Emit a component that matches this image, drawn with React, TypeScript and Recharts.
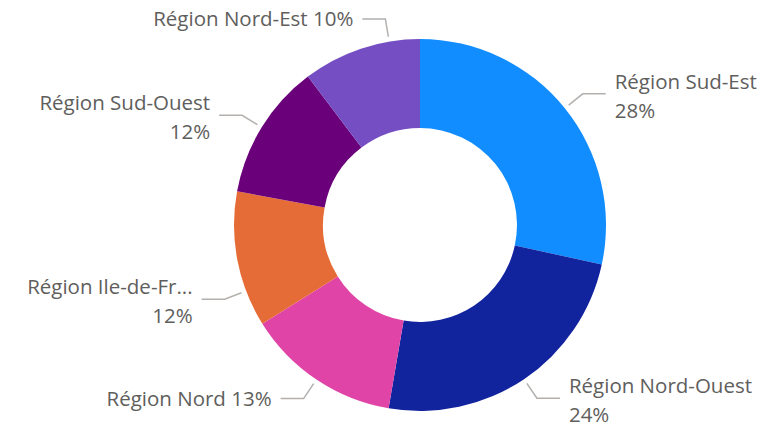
import { PieChart, Pie, Cell } from 'recharts'

const categories = [
  'Région Sud-Est',
  'Région Nord-Ouest',
  'Région Nord',
  'Région Ile-de-France',
  'Région Sud-Ouest',
  'Région Nord-Est',
]
const shares = [28.4, 24.3, 13.4, 11.8, 11.8, 10.3]
// what the label shows (Ile-de-France is cut off in the original)
const labelNames = [
  'Région Sud-Est',
  'Région Nord-Ouest',
  'Région Nord',
  'Région Ile-de-Fr...',
  'Région Sud-Ouest',
  'Région Nord-Est',
]
const wrapLabel = [true, true, false, true, true, false]

const palette = ['#118DFF', '#12239E', '#E044A7', '#E66C37', '#6B007B', '#744EC2']

// the original nudges two labels off their slice's mid angle to spread them out
const angleNudge: Record<number, number> = { 3: 10, 5: -9 }

const RAD = Math.PI / 180
const FONT = '"Open Sans", "Noto Sans", sans-serif'
const TEXT = '#605E5C'
const LINE = '#B3B0AD'

const data = categories.map((name, i) => ({ name, value: shares[i] }))

function renderLabel(props: any) {
  const { cx, cy, midAngle, outerRadius, percent, index } = props
  const ang = (midAngle + (angleNudge[index] ?? 0)) * RAD
  const cos = Math.cos(-ang)
  const sin = Math.sin(-ang)
  const sx = cx + (outerRadius + 5) * cos
  const sy = cy + (outerRadius + 5) * sin
  const ex = cx + (outerRadius + 23) * cos
  const ey = cy + (outerRadius + 23) * sin
  const right = cos >= 0
  const hx = ex + (right ? 23 : -23)
  const tx = hx + (right ? 9 : -9)
  const pct = `${Math.round(percent * 100)}%`
  const name = labelNames[index]
  return (
    <g key={`lbl-${index}`}>
      <polyline
        points={`${sx},${sy} ${ex},${ey} ${hx},${ey}`}
        fill="none"
        stroke={LINE}
        strokeWidth={1.5}
      />
      {wrapLabel[index] ? (
        <text x={tx} y={ey} textAnchor={right ? 'start' : 'end'} fill={TEXT}
          fontFamily={FONT} fontSize={20.5}>
          <tspan x={tx} dy={-5}>{name}</tspan>
          <tspan x={tx} dy={29}>{pct}</tspan>
        </text>
      ) : (
        <text x={tx} y={ey + 7} textAnchor={right ? 'start' : 'end'} fill={TEXT}
          fontFamily={FONT} fontSize={20.5}>
          {`${name} ${pct}`}
        </text>
      )}
    </g>
  )
}

export default function App() {
  return (
    <div style={{ position: 'absolute', left: 0, top: 0, background: '#fff' }}>
      <PieChart width={761} height={423} margin={{ top: 0, right: 0, bottom: 0, left: 0 }}>
        <Pie
          data={data}
          dataKey="value"
          nameKey="name"
          cx={420}
          cy={225}
          innerRadius={97}
          outerRadius={186}
          startAngle={90}
          endAngle={-270}
          stroke="none"
          labelLine={false}
          label={renderLabel}
          isAnimationActive={false}
        >
          {data.map((d, i) => (
            <Cell key={d.name} fill={palette[i]} />
          ))}
        </Pie>
      </PieChart>
    </div>
  )
}
